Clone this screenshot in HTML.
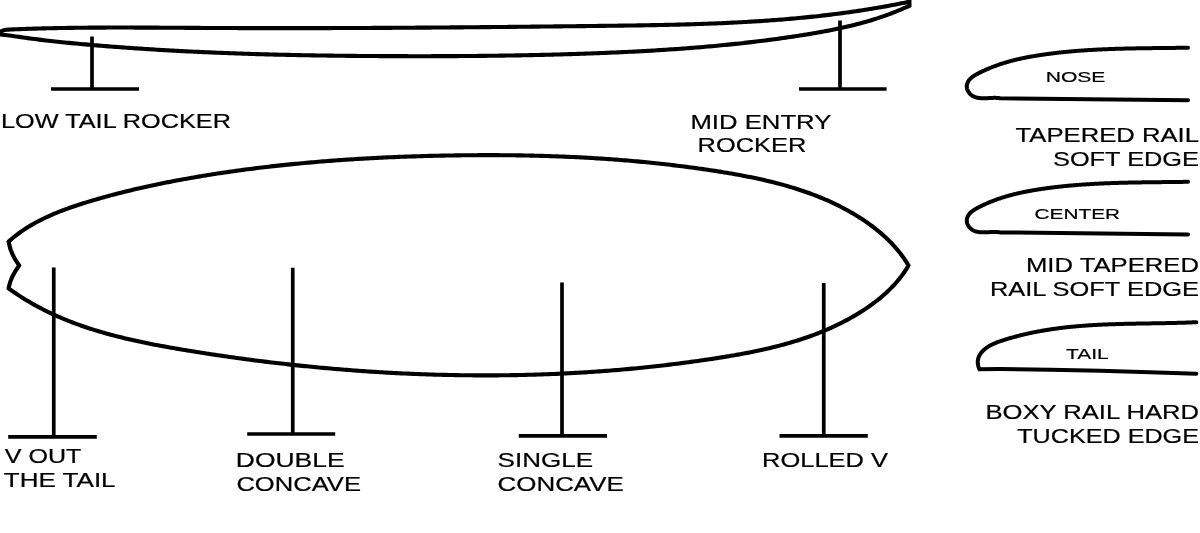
<!DOCTYPE html>
<html><head><meta charset="utf-8"><style>
html,body{margin:0;padding:0;background:#fff;width:1200px;height:533px;overflow:hidden}
svg{display:block;will-change:transform}
text{font-family:"Liberation Sans", sans-serif;fill:#000;stroke:#000;stroke-width:0.2px}
</style></head><body>
<svg width="1200" height="533" viewBox="0 0 1200 533">
<defs><clipPath id="rc"><rect x="-10" y="-10" width="921.5" height="100"/></clipPath></defs>
<rect width="1200" height="533" fill="#fff"/>
<g fill="none" stroke="#000" stroke-width="3.7" stroke-linejoin="round">
<path d="M-2.00,34.20 L-0.22,32.32 L1.75,31.05 L3.85,30.26 L6.05,29.83 L8.31,29.62 L10.61,29.51 L12.91,29.41 L15.21,29.32 L17.50,29.23 L19.80,29.14 L22.10,29.06 L24.40,28.97 L26.70,28.89 L29.00,28.82 L31.30,28.74 L33.60,28.67 L35.90,28.60 L38.21,28.54 L40.51,28.47 L42.81,28.41 L45.11,28.36 L47.41,28.30 L49.72,28.25 L52.02,28.19 L54.32,28.15 L56.63,28.10 L58.93,28.06 L61.23,28.01 L63.54,27.97 L65.84,27.94 L68.14,27.90 L70.45,27.87 L72.75,27.83 L75.06,27.80 L77.36,27.78 L79.67,27.75 L81.97,27.73 L84.28,27.70 L86.59,27.68 L88.89,27.66 L91.20,27.65 L93.50,27.63 L95.81,27.62 L98.12,27.60 L100.42,27.59 L102.73,27.58 L105.04,27.58 L107.34,27.57 L109.65,27.56 L111.96,27.56 L114.27,27.56 L116.57,27.55 L118.88,27.55 L121.19,27.55 L123.50,27.55 L125.80,27.56 L128.11,27.56 L130.42,27.56 L132.73,27.57 L135.03,27.58 L137.34,27.58 L139.65,27.59 L141.96,27.60 L144.27,27.61 L146.58,27.62 L148.88,27.63 L151.19,27.64 L153.50,27.65 L155.81,27.66 L158.12,27.67 L160.42,27.69 L162.73,27.70 L165.04,27.71 L167.35,27.73 L169.66,27.74 L171.97,27.75 L174.27,27.77 L176.58,27.78 L178.89,27.80 L181.20,27.81 L183.51,27.82 L185.81,27.84 L188.12,27.85 L190.43,27.87 L192.74,27.88 L195.05,27.89 L197.35,27.91 L199.66,27.92 L201.97,27.93 L204.27,27.94 L206.58,27.95 L208.89,27.97 L211.20,27.98 L213.50,27.99 L215.81,28.00 L218.12,28.01 L220.42,28.02 L222.73,28.03 L225.04,28.03 L227.34,28.04 L229.65,28.05 L231.96,28.06 L234.26,28.07 L236.57,28.07 L238.87,28.08 L241.18,28.09 L243.49,28.09 L245.79,28.10 L248.10,28.10 L250.40,28.11 L252.71,28.11 L255.02,28.12 L257.32,28.12 L259.63,28.12 L261.93,28.13 L264.24,28.13 L266.54,28.13 L268.85,28.13 L271.15,28.14 L273.46,28.14 L275.76,28.14 L278.07,28.14 L280.37,28.14 L282.68,28.14 L284.98,28.14 L287.29,28.14 L289.59,28.14 L291.90,28.14 L294.20,28.14 L296.51,28.14 L298.81,28.14 L301.12,28.13 L303.42,28.13 L305.73,28.13 L308.03,28.12 L310.33,28.12 L312.64,28.12 L314.94,28.11 L317.25,28.11 L319.55,28.11 L321.86,28.10 L324.16,28.10 L326.46,28.09 L328.77,28.08 L331.07,28.08 L333.38,28.07 L335.68,28.07 L337.98,28.06 L340.29,28.05 L342.59,28.04 L344.90,28.04 L347.20,28.03 L349.50,28.02 L351.81,28.01 L354.11,28.00 L356.42,27.99 L358.72,27.99 L361.02,27.98 L363.33,27.97 L365.63,27.96 L367.93,27.95 L370.24,27.94 L372.54,27.92 L374.85,27.91 L377.15,27.90 L379.45,27.89 L381.76,27.88 L384.06,27.87 L386.36,27.86 L388.67,27.84 L390.97,27.83 L393.27,27.82 L395.58,27.80 L397.88,27.79 L400.19,27.78 L402.49,27.76 L404.79,27.75 L407.10,27.73 L409.40,27.72 L411.70,27.71 L414.01,27.69 L416.31,27.67 L418.62,27.66 L420.92,27.64 L423.22,27.63 L425.53,27.61 L427.83,27.60 L430.13,27.58 L432.44,27.56 L434.74,27.55 L437.05,27.53 L439.35,27.51 L441.65,27.49 L443.96,27.48 L446.26,27.46 L448.56,27.44 L450.87,27.42 L453.17,27.40 L455.48,27.38 L457.78,27.37 L460.08,27.35 L462.39,27.33 L464.69,27.31 L467.00,27.29 L469.30,27.27 L471.61,27.25 L473.91,27.23 L476.21,27.21 L478.52,27.19 L480.82,27.17 L483.13,27.14 L485.43,27.12 L487.74,27.10 L490.04,27.08 L492.35,27.06 L494.65,27.04 L496.95,27.02 L499.26,26.99 L501.56,26.97 L503.87,26.95 L506.17,26.93 L508.48,26.90 L510.78,26.88 L513.09,26.86 L515.39,26.84 L517.70,26.81 L520.00,26.79 L522.31,26.76 L524.61,26.74 L526.92,26.72 L529.23,26.69 L531.53,26.67 L533.84,26.64 L536.14,26.62 L538.45,26.60 L540.75,26.57 L543.06,26.55 L545.37,26.52 L547.67,26.50 L549.98,26.47 L552.28,26.45 L554.59,26.42 L556.90,26.39 L559.20,26.37 L561.51,26.34 L563.81,26.32 L566.12,26.29 L568.43,26.27 L570.73,26.24 L573.04,26.21 L575.35,26.19 L577.66,26.16 L579.96,26.13 L582.27,26.11 L584.58,26.08 L586.88,26.05 L589.19,26.03 L591.50,26.00 L593.81,25.97 L596.11,25.94 L598.42,25.92 L600.73,25.89 L603.04,25.86 L605.35,25.83 L607.65,25.81 L609.96,25.78 L612.27,25.75 L614.58,25.72 L616.89,25.69 L619.19,25.66 L621.50,25.63 L623.81,25.60 L626.12,25.57 L628.43,25.54 L630.74,25.50 L633.05,25.47 L635.35,25.44 L637.66,25.40 L639.97,25.37 L642.28,25.33 L644.59,25.29 L646.90,25.25 L649.21,25.21 L651.51,25.17 L653.82,25.13 L656.13,25.09 L658.44,25.04 L660.75,25.00 L663.05,24.95 L665.36,24.90 L667.67,24.85 L669.98,24.80 L672.29,24.75 L674.59,24.69 L676.90,24.63 L679.21,24.58 L681.52,24.52 L683.82,24.45 L686.13,24.39 L688.44,24.33 L690.74,24.26 L693.05,24.19 L695.36,24.12 L697.66,24.05 L699.97,23.97 L702.27,23.89 L704.58,23.81 L706.88,23.73 L709.19,23.65 L711.49,23.56 L713.80,23.47 L716.10,23.38 L718.41,23.28 L720.71,23.19 L723.02,23.09 L725.32,22.99 L727.62,22.88 L729.93,22.77 L732.23,22.66 L734.53,22.55 L736.83,22.43 L739.13,22.31 L741.44,22.19 L743.74,22.07 L746.04,21.94 L748.34,21.81 L750.64,21.67 L752.94,21.54 L755.24,21.40 L757.54,21.25 L759.84,21.10 L762.14,20.95 L764.43,20.80 L766.73,20.64 L769.03,20.48 L771.33,20.31 L773.62,20.14 L775.92,19.97 L778.22,19.80 L780.51,19.62 L782.81,19.43 L785.10,19.24 L787.40,19.05 L789.69,18.86 L791.98,18.66 L794.28,18.45 L796.57,18.24 L798.86,18.03 L801.15,17.81 L803.44,17.59 L805.74,17.37 L808.03,17.14 L810.32,16.90 L812.60,16.66 L814.89,16.42 L817.18,16.17 L819.47,15.92 L821.76,15.66 L824.04,15.40 L826.33,15.14 L828.61,14.86 L830.90,14.59 L833.18,14.31 L835.47,14.02 L837.75,13.73 L840.03,13.43 L842.32,13.13 L844.60,12.83 L846.88,12.51 L849.16,12.20 L851.44,11.87 L853.72,11.55 L856.00,11.21 L858.27,10.88 L860.55,10.53 L862.83,10.18 L865.10,9.83 L867.38,9.47 L869.65,9.10 L871.93,8.73 L874.20,8.35 L876.47,7.97 L878.75,7.58 L881.02,7.18 L883.29,6.78 L885.56,6.37 L887.83,5.96 L890.10,5.54 L892.36,5.11 L894.63,4.68 L896.90,4.24 L899.16,3.80 L901.43,3.35 L903.69,2.89 L905.96,2.42 L908.22,1.95 L910.48,1.48 L912.74,0.99 L915.00,0.50 M-2.00,34.19 L0.30,34.42 L2.59,34.67 L4.88,34.94 L7.17,35.23 L9.46,35.53 L11.75,35.84 L14.04,36.16 L16.33,36.48 L18.61,36.81 L20.90,37.14 L23.19,37.47 L25.48,37.80 L27.77,38.11 L30.06,38.43 L32.36,38.73 L34.65,39.03 L36.94,39.33 L39.24,39.61 L41.54,39.90 L43.83,40.17 L46.13,40.45 L48.43,40.71 L50.73,40.98 L53.03,41.23 L55.33,41.49 L57.63,41.73 L59.93,41.98 L62.24,42.22 L64.54,42.45 L66.85,42.68 L69.15,42.91 L71.45,43.14 L73.76,43.36 L76.07,43.57 L78.37,43.79 L80.68,44.00 L82.99,44.21 L85.29,44.41 L87.60,44.61 L89.91,44.81 L92.22,45.01 L94.52,45.21 L96.83,45.40 L99.14,45.59 L101.45,45.78 L103.76,45.97 L106.06,46.15 L108.37,46.34 L110.68,46.52 L112.99,46.69 L115.30,46.87 L117.61,47.04 L119.92,47.22 L122.23,47.39 L124.54,47.55 L126.85,47.72 L129.15,47.88 L131.46,48.04 L133.77,48.20 L136.08,48.36 L138.39,48.52 L140.70,48.67 L143.02,48.82 L145.33,48.97 L147.64,49.12 L149.95,49.26 L152.26,49.41 L154.57,49.55 L156.88,49.69 L159.19,49.83 L161.50,49.96 L163.81,50.10 L166.12,50.23 L168.44,50.36 L170.75,50.49 L173.06,50.62 L175.37,50.74 L177.68,50.87 L179.99,50.99 L182.31,51.11 L184.62,51.23 L186.93,51.34 L189.24,51.46 L191.56,51.57 L193.87,51.68 L196.18,51.79 L198.49,51.90 L200.81,52.01 L203.12,52.11 L205.43,52.21 L207.74,52.31 L210.06,52.41 L212.37,52.51 L214.68,52.61 L217.00,52.70 L219.31,52.80 L221.62,52.89 L223.94,52.98 L226.25,53.07 L228.57,53.15 L230.88,53.24 L233.19,53.32 L235.51,53.40 L237.82,53.48 L240.13,53.56 L242.45,53.64 L244.76,53.72 L247.08,53.79 L249.39,53.87 L251.71,53.94 L254.02,54.01 L256.34,54.08 L258.65,54.15 L260.96,54.21 L263.28,54.28 L265.59,54.34 L267.91,54.41 L270.22,54.47 L272.54,54.53 L274.85,54.59 L277.17,54.64 L279.48,54.70 L281.80,54.76 L284.11,54.81 L286.43,54.86 L288.74,54.91 L291.06,54.96 L293.37,55.01 L295.69,55.06 L298.00,55.11 L300.32,55.15 L302.64,55.19 L304.95,55.24 L307.27,55.28 L309.58,55.32 L311.90,55.36 L314.21,55.40 L316.53,55.44 L318.84,55.47 L321.16,55.51 L323.48,55.54 L325.79,55.57 L328.11,55.61 L330.42,55.64 L332.74,55.67 L335.06,55.70 L337.37,55.73 L339.69,55.75 L342.00,55.78 L344.32,55.80 L346.64,55.83 L348.95,55.85 L351.27,55.87 L353.58,55.90 L355.90,55.92 L358.22,55.94 L360.53,55.96 L362.85,55.97 L365.16,55.99 L367.48,56.01 L369.80,56.02 L372.11,56.04 L374.43,56.05 L376.74,56.07 L379.06,56.08 L381.38,56.09 L383.69,56.10 L386.01,56.11 L388.33,56.12 L390.64,56.13 L392.96,56.14 L395.27,56.15 L397.59,56.15 L399.91,56.16 L402.22,56.17 L404.54,56.17 L406.86,56.17 L409.17,56.18 L411.49,56.18 L413.80,56.18 L416.12,56.19 L418.44,56.19 L420.75,56.19 L423.07,56.19 L425.38,56.18 L427.70,56.18 L430.02,56.18 L432.33,56.17 L434.65,56.17 L436.96,56.17 L439.28,56.16 L441.60,56.15 L443.91,56.14 L446.23,56.14 L448.54,56.13 L450.86,56.12 L453.18,56.10 L455.49,56.09 L457.81,56.08 L460.12,56.06 L462.44,56.05 L464.75,56.03 L467.07,56.02 L469.39,56.00 L471.70,55.98 L474.02,55.96 L476.33,55.94 L478.65,55.92 L480.96,55.90 L483.28,55.87 L485.60,55.85 L487.91,55.82 L490.23,55.79 L492.54,55.77 L494.86,55.74 L497.17,55.71 L499.49,55.67 L501.80,55.64 L504.12,55.61 L506.43,55.57 L508.75,55.54 L511.06,55.50 L513.38,55.46 L515.69,55.42 L518.01,55.38 L520.32,55.34 L522.64,55.30 L524.95,55.25 L527.27,55.21 L529.58,55.16 L531.90,55.11 L534.21,55.07 L536.53,55.01 L538.84,54.96 L541.16,54.91 L543.47,54.86 L545.79,54.80 L548.10,54.74 L550.42,54.68 L552.73,54.63 L555.05,54.56 L557.36,54.50 L559.67,54.44 L561.99,54.37 L564.30,54.31 L566.62,54.24 L568.93,54.17 L571.24,54.10 L573.56,54.03 L575.87,53.95 L578.19,53.88 L580.50,53.80 L582.81,53.72 L585.13,53.64 L587.44,53.56 L589.76,53.48 L592.07,53.39 L594.38,53.31 L596.70,53.22 L599.01,53.13 L601.32,53.04 L603.64,52.95 L605.95,52.85 L608.26,52.76 L610.57,52.66 L612.89,52.56 L615.20,52.46 L617.51,52.36 L619.83,52.25 L622.14,52.15 L624.45,52.04 L626.76,51.93 L629.08,51.82 L631.39,51.70 L633.70,51.59 L636.01,51.47 L638.32,51.35 L640.64,51.23 L642.95,51.10 L645.26,50.97 L647.57,50.84 L649.88,50.71 L652.19,50.58 L654.50,50.44 L656.81,50.30 L659.12,50.16 L661.43,50.02 L663.74,49.87 L666.05,49.72 L668.36,49.57 L670.67,49.42 L672.98,49.26 L675.29,49.10 L677.60,48.94 L679.91,48.78 L682.22,48.61 L684.53,48.44 L686.84,48.27 L689.14,48.09 L691.45,47.91 L693.76,47.73 L696.07,47.54 L698.37,47.36 L700.68,47.17 L702.99,46.97 L705.29,46.78 L707.60,46.58 L709.91,46.37 L712.21,46.17 L714.52,45.96 L716.82,45.74 L719.13,45.53 L721.43,45.31 L723.74,45.08 L726.04,44.86 L728.34,44.63 L730.65,44.39 L732.95,44.15 L735.25,43.91 L737.56,43.67 L739.86,43.42 L742.16,43.17 L744.46,42.91 L746.76,42.65 L749.06,42.39 L751.37,42.13 L753.67,41.85 L755.97,41.58 L758.27,41.30 L760.57,41.02 L762.86,40.73 L765.16,40.44 L767.46,40.15 L769.76,39.85 L772.06,39.55 L774.35,39.24 L776.65,38.93 L778.95,38.61 L781.24,38.29 L783.54,37.97 L785.84,37.64 L788.13,37.31 L790.42,36.97 L792.72,36.63 L795.01,36.29 L797.31,35.94 L799.60,35.58 L801.89,35.22 L804.18,34.86 L806.48,34.49 L808.77,34.11 L811.06,33.73 L813.34,33.35 L815.63,32.95 L817.92,32.55 L820.20,32.14 L822.48,31.73 L824.76,31.30 L827.04,30.87 L829.32,30.43 L831.60,29.98 L833.87,29.53 L836.14,29.06 L838.41,28.58 L840.67,28.09 L842.93,27.60 L845.19,27.09 L847.44,26.57 L849.70,26.03 L851.94,25.49 L854.19,24.93 L856.43,24.36 L858.67,23.78 L860.90,23.19 L863.13,22.58 L865.35,21.95 L867.57,21.32 L869.79,20.67 L872.00,20.00 L874.21,19.32 L876.41,18.62 L878.60,17.91 L880.79,17.18 L882.98,16.43 L885.16,15.66 L887.33,14.88 L889.50,14.09 L891.66,13.27 L893.82,12.43 L895.96,11.58 L898.11,10.71 L900.24,9.81 L902.37,8.90 L904.50,7.97 L906.61,7.02 L908.72,6.05 L910.82,5.05 L912.91,4.04 L915.00,3.00" clip-path="url(#rc)" stroke-width="4.1"/>
<path d="M8.59,241.59 L10.36,240.03 L12.15,238.50 L13.97,237.01 L15.81,235.56 L17.67,234.14 L19.55,232.75 L21.46,231.40 L23.38,230.08 L25.33,228.80 L27.29,227.54 L29.28,226.32 L31.28,225.12 L33.30,223.95 L35.34,222.81 L37.40,221.70 L39.47,220.62 L41.55,219.56 L43.65,218.52 L45.77,217.51 L47.89,216.52 L50.04,215.56 L52.19,214.62 L54.36,213.70 L56.53,212.80 L58.72,211.91 L60.92,211.05 L63.12,210.21 L65.34,209.38 L67.56,208.57 L69.80,207.77 L72.03,206.99 L74.28,206.23 L76.53,205.48 L78.79,204.74 L81.05,204.01 L83.31,203.29 L85.58,202.59 L87.85,201.89 L90.13,201.20 L92.40,200.52 L94.68,199.85 L96.96,199.19 L99.24,198.54 L101.53,197.89 L103.81,197.25 L106.10,196.62 L108.38,195.99 L110.67,195.38 L112.96,194.77 L115.25,194.17 L117.55,193.57 L119.84,192.98 L122.14,192.40 L124.44,191.83 L126.74,191.26 L129.04,190.70 L131.34,190.15 L133.65,189.60 L135.95,189.06 L138.26,188.53 L140.56,188.00 L142.87,187.48 L145.18,186.96 L147.49,186.45 L149.81,185.95 L152.12,185.45 L154.43,184.96 L156.75,184.48 L159.07,184.00 L161.39,183.52 L163.70,183.05 L166.03,182.59 L168.35,182.13 L170.67,181.68 L172.99,181.23 L175.32,180.79 L177.64,180.35 L179.97,179.92 L182.29,179.49 L184.62,179.07 L186.95,178.65 L189.28,178.23 L191.61,177.82 L193.94,177.42 L196.27,177.02 L198.60,176.62 L200.94,176.23 L203.27,175.84 L205.60,175.46 L207.94,175.08 L210.27,174.70 L212.61,174.33 L214.95,173.97 L217.29,173.60 L219.62,173.25 L221.96,172.89 L224.30,172.54 L226.65,172.20 L228.99,171.86 L231.33,171.52 L233.67,171.19 L236.01,170.86 L238.36,170.53 L240.70,170.21 L243.05,169.90 L245.39,169.58 L247.74,169.28 L250.09,168.97 L252.43,168.67 L254.78,168.37 L257.13,168.08 L259.48,167.79 L261.83,167.51 L264.18,167.23 L266.53,166.95 L268.88,166.67 L271.23,166.40 L273.58,166.14 L275.94,165.88 L278.29,165.62 L280.64,165.36 L283.00,165.11 L285.35,164.87 L287.70,164.62 L290.06,164.38 L292.42,164.14 L294.77,163.91 L297.13,163.68 L299.48,163.46 L301.84,163.23 L304.20,163.02 L306.56,162.80 L308.91,162.59 L311.27,162.38 L313.63,162.18 L315.99,161.97 L318.35,161.78 L320.71,161.58 L323.07,161.39 L325.43,161.20 L327.79,161.02 L330.15,160.84 L332.51,160.66 L334.88,160.48 L337.24,160.31 L339.60,160.14 L341.96,159.98 L344.32,159.82 L346.69,159.66 L349.05,159.50 L351.41,159.35 L353.78,159.20 L356.14,159.05 L358.50,158.91 L360.87,158.77 L363.23,158.63 L365.59,158.50 L367.96,158.36 L370.32,158.24 L372.69,158.11 L375.05,157.99 L377.42,157.87 L379.78,157.75 L382.15,157.64 L384.51,157.52 L386.88,157.42 L389.24,157.31 L391.61,157.21 L393.97,157.11 L396.34,157.01 L398.70,156.91 L401.07,156.82 L403.43,156.73 L405.80,156.65 L408.16,156.56 L410.53,156.48 L412.89,156.40 L415.26,156.33 L417.62,156.25 L419.99,156.18 L422.35,156.11 L424.72,156.04 L427.08,155.98 L429.45,155.92 L431.81,155.86 L434.18,155.80 L436.54,155.75 L438.91,155.70 L441.27,155.65 L443.63,155.60 L446.00,155.56 L448.36,155.51 L450.73,155.47 L453.09,155.44 L455.45,155.40 L457.81,155.37 L460.18,155.33 L462.54,155.31 L464.90,155.28 L467.27,155.26 L469.63,155.23 L471.99,155.21 L474.35,155.20 L476.71,155.18 L479.07,155.17 L481.44,155.16 L483.80,155.16 L486.16,155.15 L488.52,155.15 L490.88,155.15 L493.24,155.16 L495.60,155.16 L497.96,155.17 L500.32,155.18 L502.68,155.20 L505.04,155.22 L507.40,155.24 L509.76,155.26 L512.12,155.29 L514.48,155.32 L516.84,155.35 L519.20,155.38 L521.56,155.42 L523.92,155.46 L526.28,155.51 L528.64,155.55 L531.00,155.60 L533.36,155.66 L535.72,155.71 L538.08,155.77 L540.43,155.83 L542.79,155.90 L545.15,155.97 L547.51,156.04 L549.87,156.11 L552.23,156.19 L554.58,156.27 L556.94,156.36 L559.30,156.45 L561.66,156.54 L564.02,156.64 L566.38,156.73 L568.73,156.84 L571.09,156.94 L573.45,157.05 L575.81,157.16 L578.16,157.28 L580.52,157.40 L582.88,157.52 L585.24,157.65 L587.59,157.78 L589.95,157.91 L592.31,158.05 L594.67,158.19 L597.02,158.34 L599.38,158.49 L601.74,158.64 L604.10,158.80 L606.45,158.96 L608.81,159.12 L611.17,159.29 L613.53,159.46 L615.88,159.64 L618.24,159.82 L620.60,160.00 L622.96,160.19 L625.31,160.38 L627.67,160.58 L630.03,160.78 L632.38,160.98 L634.74,161.19 L637.10,161.40 L639.46,161.62 L641.81,161.84 L644.17,162.06 L646.53,162.29 L648.89,162.53 L651.24,162.76 L653.60,163.01 L655.96,163.25 L658.32,163.50 L660.67,163.76 L663.03,164.02 L665.39,164.28 L667.75,164.55 L670.11,164.82 L672.46,165.10 L674.82,165.38 L677.18,165.67 L679.54,165.96 L681.90,166.25 L684.25,166.55 L686.61,166.86 L688.97,167.17 L691.33,167.48 L693.69,167.80 L696.05,168.13 L698.40,168.46 L700.76,168.79 L703.12,169.13 L705.48,169.47 L707.84,169.82 L710.20,170.17 L712.56,170.53 L714.92,170.89 L717.28,171.26 L719.63,171.63 L721.99,172.01 L724.35,172.40 L726.71,172.79 L729.06,173.19 L731.42,173.59 L733.77,174.00 L736.12,174.42 L738.47,174.85 L740.82,175.28 L743.17,175.72 L745.51,176.18 L747.86,176.64 L750.19,177.10 L752.53,177.58 L754.86,178.07 L757.19,178.57 L759.52,179.07 L761.85,179.59 L764.16,180.12 L766.48,180.66 L768.79,181.21 L771.10,181.77 L773.40,182.34 L775.70,182.92 L778.00,183.52 L780.29,184.13 L782.57,184.75 L784.85,185.38 L787.12,186.03 L789.39,186.69 L791.65,187.37 L793.91,188.05 L796.16,188.76 L798.40,189.47 L800.64,190.21 L802.87,190.95 L805.09,191.71 L807.31,192.49 L809.52,193.29 L811.72,194.10 L813.92,194.92 L816.10,195.76 L818.28,196.62 L820.45,197.50 L822.61,198.39 L824.77,199.30 L826.91,200.23 L829.05,201.18 L831.18,202.15 L833.29,203.13 L835.40,204.14 L837.50,205.16 L839.59,206.20 L841.67,207.26 L843.74,208.34 L845.80,209.45 L847.85,210.57 L849.89,211.71 L851.91,212.88 L853.93,214.07 L855.93,215.27 L857.93,216.50 L859.91,217.76 L861.88,219.03 L863.84,220.33 L865.79,221.65 L867.72,222.99 L869.63,224.36 L871.53,225.75 L873.42,227.17 L875.28,228.61 L877.13,230.08 L878.96,231.57 L880.76,233.09 L882.55,234.64 L884.31,236.22 L886.04,237.82 L887.75,239.45 L889.44,241.11 L891.10,242.80 L892.73,244.52 L894.33,246.27 L895.90,248.05 L897.44,249.86 L898.95,251.70 L900.42,253.57 L901.86,255.48 L903.26,257.41 L904.63,259.38 L905.96,261.39 L907.26,263.43 L908.51,265.50 L908.51,265.50 L907.29,267.55 L906.02,269.56 L904.71,271.54 L903.36,273.48 L901.97,275.40 L900.53,277.28 L899.06,279.13 L897.55,280.96 L896.01,282.75 L894.42,284.51 L892.81,286.24 L891.16,287.94 L889.49,289.62 L887.78,291.26 L886.04,292.88 L884.28,294.47 L882.49,296.03 L880.67,297.56 L878.83,299.07 L876.97,300.55 L875.09,302.00 L873.19,303.43 L871.27,304.84 L869.33,306.22 L867.38,307.57 L865.41,308.90 L863.43,310.20 L861.43,311.49 L859.43,312.74 L857.41,313.98 L855.39,315.19 L853.35,316.38 L851.31,317.55 L849.25,318.70 L847.19,319.83 L845.12,320.93 L843.04,322.01 L840.95,323.08 L838.85,324.12 L836.74,325.14 L834.63,326.14 L832.50,327.13 L830.37,328.09 L828.23,329.04 L826.09,329.96 L823.93,330.87 L821.77,331.76 L819.60,332.63 L817.42,333.49 L815.24,334.33 L813.05,335.15 L810.85,335.95 L808.65,336.74 L806.44,337.51 L804.22,338.27 L802.00,339.01 L799.77,339.73 L797.54,340.44 L795.30,341.14 L793.05,341.82 L790.80,342.49 L788.55,343.14 L786.29,343.78 L784.02,344.41 L781.75,345.02 L779.47,345.62 L777.19,346.21 L774.91,346.79 L772.62,347.35 L770.33,347.91 L768.03,348.45 L765.73,348.98 L763.43,349.50 L761.12,350.01 L758.81,350.51 L756.49,351.01 L754.18,351.49 L751.86,351.96 L749.53,352.42 L747.21,352.88 L744.88,353.32 L742.55,353.76 L740.21,354.19 L737.88,354.61 L735.54,355.03 L733.20,355.44 L730.86,355.84 L728.52,356.24 L726.18,356.63 L723.84,357.01 L721.49,357.39 L719.14,357.76 L716.80,358.13 L714.45,358.49 L712.10,358.85 L709.75,359.21 L707.41,359.56 L705.06,359.90 L702.71,360.25 L700.36,360.58 L698.01,360.92 L695.66,361.25 L693.31,361.58 L690.96,361.90 L688.61,362.22 L686.26,362.53 L683.90,362.84 L681.55,363.15 L679.20,363.45 L676.85,363.75 L674.50,364.04 L672.14,364.33 L669.79,364.62 L667.44,364.90 L665.08,365.18 L662.73,365.45 L660.37,365.72 L658.02,365.99 L655.66,366.25 L653.31,366.51 L650.95,366.76 L648.60,367.01 L646.24,367.26 L643.89,367.50 L641.53,367.74 L639.18,367.98 L636.82,368.21 L634.46,368.44 L632.11,368.66 L629.75,368.88 L627.39,369.10 L625.04,369.31 L622.68,369.52 L620.32,369.72 L617.96,369.92 L615.61,370.12 L613.25,370.31 L610.89,370.50 L608.53,370.69 L606.17,370.87 L603.81,371.05 L601.46,371.22 L599.10,371.39 L596.74,371.56 L594.38,371.72 L592.02,371.88 L589.66,372.04 L587.30,372.19 L584.94,372.34 L582.58,372.48 L580.22,372.62 L577.86,372.76 L575.50,372.90 L573.14,373.03 L570.78,373.15 L568.42,373.28 L566.06,373.39 L563.70,373.51 L561.34,373.62 L558.98,373.73 L556.62,373.84 L554.26,373.94 L551.90,374.04 L549.54,374.13 L547.18,374.22 L544.82,374.31 L542.46,374.39 L540.10,374.47 L537.74,374.55 L535.38,374.62 L533.02,374.69 L530.66,374.76 L528.30,374.82 L525.94,374.88 L523.58,374.94 L521.22,374.99 L518.86,375.04 L516.50,375.09 L514.14,375.13 L511.78,375.17 L509.42,375.21 L507.06,375.24 L504.70,375.27 L502.34,375.29 L499.98,375.31 L497.62,375.33 L495.26,375.35 L492.90,375.36 L490.54,375.37 L488.18,375.38 L485.82,375.38 L483.47,375.38 L481.11,375.37 L478.75,375.37 L476.39,375.35 L474.03,375.34 L471.67,375.32 L469.31,375.30 L466.96,375.28 L464.60,375.25 L462.24,375.22 L459.88,375.19 L457.52,375.15 L455.17,375.11 L452.81,375.07 L450.45,375.02 L448.10,374.97 L445.74,374.92 L443.38,374.87 L441.03,374.81 L438.67,374.75 L436.31,374.68 L433.96,374.61 L431.60,374.54 L429.25,374.47 L426.89,374.39 L424.54,374.31 L422.18,374.22 L419.83,374.14 L417.47,374.05 L415.12,373.95 L412.76,373.86 L410.41,373.76 L408.05,373.65 L405.70,373.55 L403.35,373.44 L400.99,373.33 L398.64,373.21 L396.29,373.09 L393.93,372.97 L391.58,372.85 L389.23,372.72 L386.87,372.59 L384.52,372.46 L382.17,372.32 L379.82,372.18 L377.46,372.04 L375.11,371.89 L372.76,371.74 L370.41,371.59 L368.06,371.44 L365.70,371.28 L363.35,371.12 L361.00,370.95 L358.65,370.78 L356.30,370.61 L353.95,370.44 L351.60,370.26 L349.25,370.08 L346.90,369.90 L344.54,369.71 L342.19,369.53 L339.84,369.33 L337.49,369.14 L335.14,368.94 L332.79,368.74 L330.44,368.53 L328.09,368.33 L325.74,368.12 L323.39,367.90 L321.05,367.69 L318.70,367.47 L316.35,367.25 L314.00,367.02 L311.65,366.79 L309.30,366.56 L306.95,366.33 L304.60,366.09 L302.25,365.85 L299.90,365.61 L297.56,365.36 L295.21,365.11 L292.86,364.86 L290.51,364.60 L288.16,364.34 L285.81,364.08 L283.47,363.82 L281.12,363.55 L278.77,363.28 L276.42,363.01 L274.08,362.73 L271.73,362.45 L269.38,362.17 L267.03,361.88 L264.69,361.60 L262.34,361.30 L259.99,361.01 L257.64,360.71 L255.30,360.41 L252.95,360.11 L250.60,359.80 L248.26,359.50 L245.91,359.18 L243.56,358.87 L241.21,358.55 L238.87,358.23 L236.52,357.91 L234.17,357.58 L231.83,357.25 L229.48,356.92 L227.14,356.58 L224.79,356.25 L222.44,355.90 L220.10,355.56 L217.75,355.21 L215.40,354.86 L213.06,354.51 L210.71,354.16 L208.37,353.80 L206.02,353.43 L203.67,353.07 L201.33,352.70 L198.98,352.33 L196.63,351.96 L194.29,351.58 L191.94,351.20 L189.60,350.82 L187.25,350.44 L184.91,350.05 L182.56,349.66 L180.21,349.27 L177.87,348.87 L175.53,348.47 L173.18,348.06 L170.84,347.65 L168.50,347.24 L166.16,346.82 L163.82,346.39 L161.48,345.96 L159.14,345.53 L156.80,345.09 L154.47,344.64 L152.14,344.19 L149.81,343.73 L147.48,343.26 L145.15,342.78 L142.83,342.30 L140.51,341.82 L138.19,341.32 L135.87,340.82 L133.56,340.30 L131.25,339.78 L128.94,339.25 L126.64,338.71 L124.34,338.17 L122.04,337.61 L119.75,337.04 L117.46,336.47 L115.17,335.88 L112.89,335.28 L110.61,334.68 L108.34,334.06 L106.07,333.43 L103.81,332.79 L101.55,332.14 L99.29,331.47 L97.04,330.80 L94.80,330.11 L92.55,329.41 L90.32,328.69 L88.09,327.97 L85.87,327.23 L83.65,326.47 L81.43,325.70 L79.23,324.92 L77.03,324.13 L74.83,323.32 L72.64,322.49 L70.46,321.65 L68.28,320.80 L66.11,319.93 L63.95,319.04 L61.80,318.14 L59.65,317.22 L57.51,316.29 L55.37,315.34 L53.25,314.37 L51.13,313.38 L49.01,312.38 L46.91,311.36 L44.81,310.32 L42.73,309.27 L40.65,308.19 L38.58,307.10 L36.51,305.99 L34.46,304.86 L32.41,303.71 L30.38,302.54 L28.35,301.35 L26.33,300.14 L24.32,298.91 L22.32,297.66 L20.33,296.39 L18.35,295.10 L16.37,293.79 L14.41,292.45 L12.46,291.10 L10.52,289.72 L8.59,288.32 Q10.5,277 19.2,265.5 Q10.5,254 8.6,241.6 Z" stroke-width="4.1"/>
<path d="M1188.00,47.70 L1187.33,47.71 L1186.65,47.72 L1185.98,47.73 L1185.31,47.74 L1184.64,47.75 L1183.96,47.76 L1183.29,47.77 L1182.62,47.78 L1181.94,47.79 L1181.27,47.80 L1180.59,47.81 L1179.92,47.82 L1179.24,47.82 L1178.57,47.83 L1177.90,47.84 L1177.22,47.85 L1176.54,47.86 L1175.87,47.87 L1175.19,47.88 L1174.52,47.88 L1173.84,47.89 L1173.17,47.90 L1172.49,47.91 L1171.81,47.91 L1171.14,47.92 L1170.46,47.93 L1169.79,47.94 L1169.11,47.94 L1168.43,47.95 L1167.75,47.96 L1167.08,47.97 L1166.40,47.97 L1165.72,47.98 L1165.05,47.99 L1164.37,48.00 L1163.69,48.00 L1163.01,48.01 L1162.33,48.02 L1161.66,48.03 L1160.98,48.03 L1160.30,48.04 L1159.62,48.05 L1158.94,48.05 L1158.26,48.06 L1157.58,48.07 L1156.91,48.08 L1156.23,48.09 L1155.55,48.09 L1154.87,48.10 L1154.19,48.11 L1153.51,48.12 L1152.83,48.12 L1152.15,48.13 L1151.47,48.14 L1150.79,48.15 L1150.11,48.16 L1149.43,48.17 L1148.75,48.18 L1148.07,48.18 L1147.39,48.19 L1146.71,48.20 L1146.03,48.21 L1145.35,48.22 L1144.67,48.23 L1143.99,48.24 L1143.31,48.25 L1142.63,48.26 L1141.95,48.27 L1141.27,48.28 L1140.59,48.29 L1139.91,48.30 L1139.22,48.31 L1138.54,48.32 L1137.86,48.34 L1137.18,48.35 L1136.50,48.36 L1135.82,48.37 L1135.14,48.38 L1134.46,48.40 L1133.78,48.41 L1133.10,48.42 L1132.41,48.43 L1131.73,48.45 L1131.05,48.46 L1130.37,48.48 L1129.69,48.49 L1129.01,48.51 L1128.33,48.52 L1127.64,48.54 L1126.96,48.55 L1126.28,48.57 L1125.60,48.58 L1124.92,48.60 L1124.24,48.62 L1123.56,48.63 L1122.88,48.65 L1122.19,48.67 L1121.51,48.69 L1120.83,48.71 L1120.15,48.72 L1119.47,48.74 L1118.79,48.76 L1118.11,48.78 L1117.42,48.80 L1116.74,48.82 L1116.06,48.85 L1115.38,48.87 L1114.70,48.89 L1114.02,48.91 L1113.34,48.93 L1112.65,48.96 L1111.97,48.98 L1111.29,49.01 L1110.61,49.03 L1109.93,49.05 L1109.25,49.08 L1108.57,49.11 L1107.89,49.13 L1107.21,49.16 L1106.53,49.19 L1105.85,49.21 L1105.16,49.24 L1104.48,49.27 L1103.80,49.30 L1103.12,49.33 L1102.44,49.36 L1101.76,49.39 L1101.08,49.42 L1100.40,49.45 L1099.72,49.49 L1099.04,49.52 L1098.36,49.55 L1097.68,49.59 L1097.00,49.62 L1096.32,49.65 L1095.64,49.69 L1094.96,49.73 L1094.28,49.76 L1093.60,49.80 L1092.92,49.84 L1092.24,49.88 L1091.56,49.92 L1090.88,49.96 L1090.20,50.00 L1089.53,50.04 L1088.85,50.08 L1088.17,50.12 L1087.49,50.16 L1086.81,50.21 L1086.13,50.25 L1085.45,50.29 L1084.78,50.34 L1084.10,50.39 L1083.42,50.43 L1082.74,50.48 L1082.06,50.53 L1081.39,50.58 L1080.71,50.63 L1080.03,50.68 L1079.35,50.73 L1078.68,50.78 L1078.00,50.83 L1077.32,50.88 L1076.65,50.94 L1075.97,50.99 L1075.29,51.05 L1074.62,51.10 L1073.94,51.16 L1073.26,51.21 L1072.59,51.27 L1071.91,51.33 L1071.24,51.39 L1070.56,51.45 L1069.89,51.51 L1069.21,51.57 L1068.54,51.64 L1067.86,51.70 L1067.19,51.76 L1066.51,51.83 L1065.84,51.89 L1065.16,51.96 L1064.49,52.03 L1063.82,52.10 L1063.14,52.17 L1062.47,52.24 L1061.80,52.31 L1061.12,52.38 L1060.45,52.45 L1059.78,52.52 L1059.10,52.60 L1058.43,52.67 L1057.76,52.75 L1057.09,52.83 L1056.42,52.90 L1055.74,52.98 L1055.07,53.06 L1054.40,53.14 L1053.73,53.22 L1053.06,53.31 L1052.39,53.39 L1051.72,53.47 L1051.05,53.56 L1050.38,53.64 L1049.71,53.73 L1049.04,53.82 L1048.37,53.91 L1047.70,54.00 L1047.03,54.09 L1046.36,54.18 L1045.70,54.27 L1045.03,54.37 L1044.36,54.46 L1043.69,54.56 L1043.02,54.65 L1042.36,54.75 L1041.69,54.85 L1041.02,54.95 L1040.36,55.05 L1039.69,55.15 L1039.02,55.25 L1038.36,55.36 L1037.69,55.46 L1037.03,55.57 L1036.36,55.68 L1035.70,55.78 L1035.03,55.89 L1034.37,56.01 L1033.71,56.12 L1033.04,56.23 L1032.38,56.35 L1031.72,56.46 L1031.05,56.58 L1030.39,56.70 L1029.73,56.82 L1029.07,56.94 L1028.40,57.06 L1027.74,57.19 L1027.08,57.32 L1026.42,57.44 L1025.76,57.57 L1025.10,57.70 L1024.44,57.84 L1023.78,57.97 L1023.12,58.11 L1022.46,58.25 L1021.80,58.39 L1021.14,58.53 L1020.49,58.67 L1019.83,58.82 L1019.17,58.96 L1018.51,59.11 L1017.85,59.26 L1017.20,59.42 L1016.54,59.57 L1015.89,59.73 L1015.23,59.89 L1014.57,60.05 L1013.92,60.21 L1013.26,60.38 L1012.61,60.55 L1011.95,60.72 L1011.30,60.89 L1010.65,61.07 L1009.99,61.24 L1009.34,61.42 L1008.69,61.60 L1008.04,61.79 L1007.38,61.97 L1006.73,62.16 L1006.08,62.35 L1005.43,62.55 L1004.78,62.74 L1004.13,62.94 L1003.48,63.14 L1002.83,63.35 L1002.18,63.55 L1001.53,63.76 L1000.88,63.97 L1000.23,64.19 L999.59,64.41 L998.94,64.63 L998.29,64.85 L997.64,65.08 L997.00,65.30 L996.35,65.54 L995.71,65.77 L995.06,66.01 L994.42,66.25 L993.77,66.49 L993.13,66.74 L992.48,66.99 L991.84,67.24 L991.20,67.50 L990.55,67.75 L989.91,68.02 L989.27,68.28 L988.63,68.55 L987.99,68.82 L987.34,69.10 L986.70,69.38 L986.06,69.66 L985.42,69.94 L984.78,70.23 L984.15,70.52 L983.51,70.82 L982.87,71.12 L982.23,71.42 L981.59,71.72 L980.96,72.03 L980.32,72.35 L979.68,72.66 L979.05,72.98 L978.41,73.31 L977.78,73.64 L977.16,73.97 L976.54,74.31 L975.92,74.66 L975.32,75.02 L974.72,75.38 L974.13,75.75 L973.56,76.13 L973.00,76.52 L972.46,76.92 L971.93,77.33 L971.42,77.75 L970.93,78.19 L970.46,78.63 L970.01,79.09 L969.58,79.57 L969.18,80.06 L968.80,80.56 L968.45,81.08 L968.13,81.61 L967.84,82.17 L967.58,82.74 L967.35,83.32 L967.15,83.93 L967.00,84.55 L966.88,85.17 L966.80,85.81 L966.77,86.45 L966.79,87.09 L966.85,87.73 L966.97,88.37 L967.13,89.00 L967.33,89.62 L967.58,90.23 L967.87,90.83 L968.19,91.42 L968.55,91.99 L968.94,92.54 L969.36,93.07 L969.80,93.59 L970.28,94.07 L970.77,94.54 L971.29,94.97 L971.83,95.38 L972.38,95.75 L972.95,96.09 L973.54,96.40 L974.14,96.68 L974.75,96.94 L975.37,97.17 L976.00,97.37 L976.65,97.54 L977.30,97.70 L977.97,97.83 L978.64,97.95 L979.33,98.04 L980.02,98.11 L980.71,98.17 L981.41,98.22 L982.12,98.25 L982.83,98.27 L983.55,98.27 L984.27,98.27 L984.99,98.25 L985.71,98.23 L986.43,98.21 L987.16,98.17 L987.88,98.14 L988.60,98.10 L989.32,98.06 L990.04,98.02 L990.75,97.98 L991.46,97.95 L992.17,97.92 L992.87,97.89 L993.56,97.87 L994.25,97.86 L994.93,97.85 L995.60,97.86 L996.26,97.88 L996.91,97.91 L997.55,97.95 L998.18,98.01 L998.80,98.09 L999.41,98.19 L1000.00,98.30 L1188,100.30" stroke-linecap="round" stroke-width="4"/>
<path d="M1188.00,181.80 L1187.33,181.81 L1186.65,181.82 L1185.98,181.83 L1185.31,181.84 L1184.64,181.85 L1183.96,181.86 L1183.29,181.87 L1182.62,181.88 L1181.94,181.89 L1181.27,181.90 L1180.59,181.91 L1179.92,181.92 L1179.24,181.92 L1178.57,181.93 L1177.90,181.94 L1177.22,181.95 L1176.54,181.96 L1175.87,181.97 L1175.19,181.98 L1174.52,181.98 L1173.84,181.99 L1173.17,182.00 L1172.49,182.01 L1171.81,182.01 L1171.14,182.02 L1170.46,182.03 L1169.79,182.04 L1169.11,182.04 L1168.43,182.05 L1167.75,182.06 L1167.08,182.07 L1166.40,182.07 L1165.72,182.08 L1165.05,182.09 L1164.37,182.10 L1163.69,182.10 L1163.01,182.11 L1162.33,182.12 L1161.66,182.13 L1160.98,182.13 L1160.30,182.14 L1159.62,182.15 L1158.94,182.15 L1158.26,182.16 L1157.58,182.17 L1156.91,182.18 L1156.23,182.19 L1155.55,182.19 L1154.87,182.20 L1154.19,182.21 L1153.51,182.22 L1152.83,182.22 L1152.15,182.23 L1151.47,182.24 L1150.79,182.25 L1150.11,182.26 L1149.43,182.27 L1148.75,182.28 L1148.07,182.28 L1147.39,182.29 L1146.71,182.30 L1146.03,182.31 L1145.35,182.32 L1144.67,182.33 L1143.99,182.34 L1143.31,182.35 L1142.63,182.36 L1141.95,182.37 L1141.27,182.38 L1140.59,182.39 L1139.91,182.40 L1139.22,182.41 L1138.54,182.42 L1137.86,182.44 L1137.18,182.45 L1136.50,182.46 L1135.82,182.47 L1135.14,182.48 L1134.46,182.50 L1133.78,182.51 L1133.10,182.52 L1132.41,182.53 L1131.73,182.55 L1131.05,182.56 L1130.37,182.58 L1129.69,182.59 L1129.01,182.61 L1128.33,182.62 L1127.64,182.64 L1126.96,182.65 L1126.28,182.67 L1125.60,182.68 L1124.92,182.70 L1124.24,182.72 L1123.56,182.73 L1122.88,182.75 L1122.19,182.77 L1121.51,182.79 L1120.83,182.81 L1120.15,182.82 L1119.47,182.84 L1118.79,182.86 L1118.11,182.88 L1117.42,182.90 L1116.74,182.92 L1116.06,182.95 L1115.38,182.97 L1114.70,182.99 L1114.02,183.01 L1113.34,183.03 L1112.65,183.06 L1111.97,183.08 L1111.29,183.11 L1110.61,183.13 L1109.93,183.15 L1109.25,183.18 L1108.57,183.21 L1107.89,183.23 L1107.21,183.26 L1106.53,183.29 L1105.85,183.31 L1105.16,183.34 L1104.48,183.37 L1103.80,183.40 L1103.12,183.43 L1102.44,183.46 L1101.76,183.49 L1101.08,183.52 L1100.40,183.55 L1099.72,183.59 L1099.04,183.62 L1098.36,183.65 L1097.68,183.69 L1097.00,183.72 L1096.32,183.75 L1095.64,183.79 L1094.96,183.83 L1094.28,183.86 L1093.60,183.90 L1092.92,183.94 L1092.24,183.98 L1091.56,184.02 L1090.88,184.06 L1090.20,184.10 L1089.53,184.14 L1088.85,184.18 L1088.17,184.22 L1087.49,184.26 L1086.81,184.31 L1086.13,184.35 L1085.45,184.39 L1084.78,184.44 L1084.10,184.49 L1083.42,184.53 L1082.74,184.58 L1082.06,184.63 L1081.39,184.68 L1080.71,184.73 L1080.03,184.78 L1079.35,184.83 L1078.68,184.88 L1078.00,184.93 L1077.32,184.98 L1076.65,185.04 L1075.97,185.09 L1075.29,185.15 L1074.62,185.20 L1073.94,185.26 L1073.26,185.31 L1072.59,185.37 L1071.91,185.43 L1071.24,185.49 L1070.56,185.55 L1069.89,185.61 L1069.21,185.67 L1068.54,185.74 L1067.86,185.80 L1067.19,185.86 L1066.51,185.93 L1065.84,185.99 L1065.16,186.06 L1064.49,186.13 L1063.82,186.20 L1063.14,186.27 L1062.47,186.34 L1061.80,186.41 L1061.12,186.48 L1060.45,186.55 L1059.78,186.62 L1059.10,186.70 L1058.43,186.77 L1057.76,186.85 L1057.09,186.93 L1056.42,187.00 L1055.74,187.08 L1055.07,187.16 L1054.40,187.24 L1053.73,187.32 L1053.06,187.41 L1052.39,187.49 L1051.72,187.57 L1051.05,187.66 L1050.38,187.74 L1049.71,187.83 L1049.04,187.92 L1048.37,188.01 L1047.70,188.10 L1047.03,188.19 L1046.36,188.28 L1045.70,188.37 L1045.03,188.47 L1044.36,188.56 L1043.69,188.66 L1043.02,188.75 L1042.36,188.85 L1041.69,188.95 L1041.02,189.05 L1040.36,189.15 L1039.69,189.25 L1039.02,189.35 L1038.36,189.46 L1037.69,189.56 L1037.03,189.67 L1036.36,189.78 L1035.70,189.88 L1035.03,189.99 L1034.37,190.11 L1033.71,190.22 L1033.04,190.33 L1032.38,190.45 L1031.72,190.56 L1031.05,190.68 L1030.39,190.80 L1029.73,190.92 L1029.07,191.04 L1028.40,191.16 L1027.74,191.29 L1027.08,191.42 L1026.42,191.54 L1025.76,191.67 L1025.10,191.80 L1024.44,191.94 L1023.78,192.07 L1023.12,192.21 L1022.46,192.35 L1021.80,192.49 L1021.14,192.63 L1020.49,192.77 L1019.83,192.92 L1019.17,193.06 L1018.51,193.21 L1017.85,193.36 L1017.20,193.52 L1016.54,193.67 L1015.89,193.83 L1015.23,193.99 L1014.57,194.15 L1013.92,194.31 L1013.26,194.48 L1012.61,194.65 L1011.95,194.82 L1011.30,194.99 L1010.65,195.17 L1009.99,195.34 L1009.34,195.52 L1008.69,195.70 L1008.04,195.89 L1007.38,196.07 L1006.73,196.26 L1006.08,196.45 L1005.43,196.65 L1004.78,196.84 L1004.13,197.04 L1003.48,197.24 L1002.83,197.45 L1002.18,197.65 L1001.53,197.86 L1000.88,198.07 L1000.23,198.29 L999.59,198.51 L998.94,198.73 L998.29,198.95 L997.64,199.18 L997.00,199.40 L996.35,199.64 L995.71,199.87 L995.06,200.11 L994.42,200.35 L993.77,200.59 L993.13,200.84 L992.48,201.09 L991.84,201.34 L991.20,201.60 L990.55,201.85 L989.91,202.12 L989.27,202.38 L988.63,202.65 L987.99,202.92 L987.34,203.20 L986.70,203.48 L986.06,203.76 L985.42,204.04 L984.78,204.33 L984.15,204.62 L983.51,204.92 L982.87,205.22 L982.23,205.52 L981.59,205.82 L980.96,206.13 L980.32,206.45 L979.68,206.76 L979.05,207.08 L978.41,207.41 L977.78,207.74 L977.16,208.07 L976.54,208.41 L975.92,208.76 L975.32,209.12 L974.72,209.48 L974.13,209.85 L973.56,210.23 L973.00,210.62 L972.46,211.02 L971.93,211.43 L971.42,211.85 L970.93,212.29 L970.46,212.73 L970.01,213.19 L969.58,213.67 L969.18,214.16 L968.80,214.66 L968.45,215.18 L968.13,215.71 L967.84,216.27 L967.58,216.84 L967.35,217.42 L967.15,218.03 L967.00,218.65 L966.88,219.27 L966.80,219.91 L966.77,220.55 L966.79,221.19 L966.85,221.83 L966.97,222.47 L967.13,223.10 L967.33,223.72 L967.58,224.33 L967.87,224.93 L968.19,225.52 L968.55,226.09 L968.94,226.64 L969.36,227.17 L969.80,227.69 L970.28,228.17 L970.77,228.64 L971.29,229.07 L971.83,229.48 L972.38,229.85 L972.95,230.19 L973.54,230.50 L974.14,230.78 L974.75,231.04 L975.37,231.27 L976.00,231.47 L976.65,231.64 L977.30,231.80 L977.97,231.93 L978.64,232.05 L979.33,232.14 L980.02,232.21 L980.71,232.27 L981.41,232.32 L982.12,232.35 L982.83,232.37 L983.55,232.37 L984.27,232.37 L984.99,232.35 L985.71,232.33 L986.43,232.31 L987.16,232.27 L987.88,232.24 L988.60,232.20 L989.32,232.16 L990.04,232.12 L990.75,232.08 L991.46,232.05 L992.17,232.02 L992.87,231.99 L993.56,231.97 L994.25,231.96 L994.93,231.95 L995.60,231.96 L996.26,231.98 L996.91,232.01 L997.55,232.05 L998.18,232.11 L998.80,232.19 L999.41,232.29 L1000.00,232.40 L1188,234.40" stroke-linecap="round" stroke-width="4"/>
<path d="M1196.30,322.20 L1195.51,322.24 L1194.71,322.27 L1193.92,322.30 L1193.13,322.34 L1192.34,322.37 L1191.54,322.40 L1190.75,322.43 L1189.95,322.47 L1189.16,322.50 L1188.37,322.52 L1187.57,322.55 L1186.78,322.58 L1185.99,322.61 L1185.19,322.64 L1184.40,322.66 L1183.60,322.69 L1182.81,322.71 L1182.01,322.74 L1181.22,322.76 L1180.42,322.78 L1179.63,322.81 L1178.84,322.83 L1178.04,322.85 L1177.25,322.87 L1176.45,322.89 L1175.65,322.91 L1174.86,322.93 L1174.06,322.95 L1173.27,322.97 L1172.47,322.99 L1171.68,323.01 L1170.88,323.02 L1170.09,323.04 L1169.29,323.06 L1168.50,323.08 L1167.70,323.09 L1166.90,323.11 L1166.11,323.12 L1165.31,323.14 L1164.52,323.15 L1163.72,323.17 L1162.92,323.18 L1162.13,323.20 L1161.33,323.21 L1160.53,323.23 L1159.74,323.24 L1158.94,323.25 L1158.15,323.27 L1157.35,323.28 L1156.55,323.29 L1155.76,323.31 L1154.96,323.32 L1154.16,323.33 L1153.37,323.35 L1152.57,323.36 L1151.77,323.37 L1150.98,323.38 L1150.18,323.40 L1149.38,323.41 L1148.59,323.42 L1147.79,323.43 L1146.99,323.45 L1146.20,323.46 L1145.40,323.47 L1144.60,323.48 L1143.81,323.50 L1143.01,323.51 L1142.21,323.52 L1141.42,323.54 L1140.62,323.55 L1139.82,323.56 L1139.03,323.58 L1138.23,323.59 L1137.43,323.60 L1136.64,323.62 L1135.84,323.63 L1135.04,323.65 L1134.25,323.66 L1133.45,323.68 L1132.65,323.69 L1131.86,323.71 L1131.06,323.72 L1130.26,323.74 L1129.47,323.76 L1128.67,323.77 L1127.87,323.79 L1127.08,323.81 L1126.28,323.83 L1125.48,323.85 L1124.69,323.87 L1123.89,323.88 L1123.10,323.90 L1122.30,323.92 L1121.50,323.95 L1120.71,323.97 L1119.91,323.99 L1119.12,324.01 L1118.32,324.03 L1117.52,324.06 L1116.73,324.08 L1115.93,324.10 L1115.14,324.13 L1114.34,324.15 L1113.54,324.18 L1112.75,324.21 L1111.95,324.23 L1111.16,324.26 L1110.36,324.29 L1109.57,324.32 L1108.77,324.35 L1107.98,324.38 L1107.18,324.41 L1106.39,324.44 L1105.59,324.48 L1104.80,324.51 L1104.00,324.54 L1103.21,324.58 L1102.41,324.62 L1101.62,324.65 L1100.83,324.69 L1100.03,324.73 L1099.24,324.77 L1098.44,324.81 L1097.65,324.85 L1096.86,324.89 L1096.06,324.93 L1095.27,324.98 L1094.47,325.02 L1093.68,325.07 L1092.89,325.11 L1092.09,325.16 L1091.30,325.21 L1090.51,325.26 L1089.72,325.31 L1088.92,325.36 L1088.13,325.41 L1087.34,325.47 L1086.55,325.52 L1085.75,325.58 L1084.96,325.63 L1084.17,325.69 L1083.38,325.75 L1082.59,325.81 L1081.79,325.87 L1081.00,325.93 L1080.21,326.00 L1079.42,326.06 L1078.63,326.13 L1077.84,326.19 L1077.05,326.26 L1076.26,326.33 L1075.47,326.40 L1074.68,326.47 L1073.89,326.55 L1073.10,326.62 L1072.31,326.70 L1071.52,326.78 L1070.73,326.86 L1069.94,326.94 L1069.15,327.02 L1068.36,327.10 L1067.57,327.18 L1066.78,327.27 L1065.99,327.36 L1065.21,327.44 L1064.42,327.53 L1063.63,327.63 L1062.84,327.72 L1062.05,327.81 L1061.27,327.91 L1060.48,328.01 L1059.69,328.10 L1058.91,328.20 L1058.12,328.31 L1057.33,328.41 L1056.55,328.51 L1055.76,328.62 L1054.97,328.73 L1054.19,328.84 L1053.40,328.95 L1052.62,329.06 L1051.83,329.18 L1051.05,329.30 L1050.26,329.41 L1049.48,329.53 L1048.69,329.65 L1047.91,329.78 L1047.13,329.90 L1046.34,330.03 L1045.56,330.16 L1044.78,330.29 L1043.99,330.42 L1043.21,330.55 L1042.43,330.69 L1041.65,330.83 L1040.86,330.97 L1040.08,331.11 L1039.30,331.25 L1038.52,331.40 L1037.74,331.54 L1036.96,331.69 L1036.18,331.84 L1035.39,332.00 L1034.61,332.15 L1033.83,332.31 L1033.05,332.47 L1032.28,332.63 L1031.50,332.79 L1030.72,332.96 L1029.94,333.12 L1029.16,333.29 L1028.38,333.46 L1027.60,333.64 L1026.83,333.81 L1026.05,333.99 L1025.27,334.17 L1024.49,334.35 L1023.72,334.53 L1022.94,334.72 L1022.17,334.91 L1021.39,335.10 L1020.61,335.29 L1019.84,335.48 L1019.06,335.68 L1018.29,335.88 L1017.52,336.08 L1016.74,336.29 L1015.97,336.49 L1015.19,336.70 L1014.42,336.91 L1013.65,337.12 L1012.87,337.34 L1012.10,337.56 L1011.33,337.78 L1010.56,338.00 L1009.79,338.22 L1009.02,338.45 L1008.24,338.68 L1007.47,338.91 L1006.70,339.15 L1005.93,339.38 L1005.16,339.62 L1004.39,339.87 L1003.63,340.11 L1002.86,340.36 L1002.09,340.61 L1001.32,340.86 L1000.56,341.12 L999.79,341.38 L999.03,341.65 L998.27,341.92 L997.52,342.20 L996.77,342.49 L996.02,342.78 L995.28,343.08 L994.54,343.39 L993.81,343.71 L993.08,344.04 L992.36,344.38 L991.65,344.73 L990.94,345.09 L990.24,345.47 L989.55,345.85 L988.87,346.25 L988.20,346.67 L987.54,347.10 L986.88,347.54 L986.24,348.00 L985.61,348.47 L985.00,348.96 L984.40,349.46 L983.81,349.97 L983.25,350.51 L982.70,351.05 L982.18,351.61 L981.68,352.19 L981.20,352.78 L980.75,353.38 L980.32,354.00 L979.92,354.64 L979.55,355.29 L979.21,355.95 L978.90,356.63 L978.63,357.32 L978.39,358.02 L978.18,358.74 L978.02,359.48 L977.89,360.22 L977.80,360.98 L977.76,361.75 L977.76,362.54 L977.80,363.33 L977.90,364.14 L978.03,364.96 L978.22,365.79 L978.46,366.63 L978.75,367.47 L979.10,368.33 L979.50,369.20 L1000,369.1 L1050,369.8 L1100,370.8 L1150,372.2 L1196.3,373.8" stroke-linecap="round" stroke-linejoin="miter" stroke-width="4"/>
</g>
<g fill="none" stroke="#000" stroke-width="3.7">
<path d="M92,36.5 V89 M51,89 H139"/>
<path d="M840,20.6 V89 M799,89 H886.6"/>
<path d="M53.75,267.5 V436.8 M8.2,436.8 H96.8"/>
<path d="M292.75,267.8 V434 M247.2,434 H335.2"/>
<path d="M562,282.5 V435.9 M518.8,435.9 H607"/>
<path d="M823.75,283 V435.9 M779.5,435.9 H867.8"/>
</g>
<g>
<text x="1.00" y="127.60" font-size="19.3" textLength="230.00" lengthAdjust="spacingAndGlyphs">LOW TAIL ROCKER</text>
<text x="690.40" y="128.70" font-size="19.3" textLength="141.00" lengthAdjust="spacingAndGlyphs">MID ENTRY</text>
<text x="697.60" y="152.30" font-size="19.3" textLength="108.80" lengthAdjust="spacingAndGlyphs">ROCKER</text>
<text x="1015.60" y="141.70" font-size="19.3" textLength="183.40" lengthAdjust="spacingAndGlyphs">TAPERED RAIL</text>
<text x="1053.00" y="165.50" font-size="19.3" textLength="146.00" lengthAdjust="spacingAndGlyphs">SOFT EDGE</text>
<text x="1026.00" y="271.60" font-size="19.3" textLength="173.00" lengthAdjust="spacingAndGlyphs">MID TAPERED</text>
<text x="990.00" y="295.50" font-size="19.3" textLength="209.00" lengthAdjust="spacingAndGlyphs">RAIL SOFT EDGE</text>
<text x="985.40" y="419.20" font-size="19.3" textLength="213.60" lengthAdjust="spacingAndGlyphs">BOXY RAIL HARD</text>
<text x="1017.20" y="443.00" font-size="19.3" textLength="181.80" lengthAdjust="spacingAndGlyphs">TUCKED EDGE</text>
<text x="4.80" y="463.00" font-size="19.3" textLength="76.60" lengthAdjust="spacingAndGlyphs">V OUT</text>
<text x="3.80" y="486.80" font-size="19.3" textLength="111.80" lengthAdjust="spacingAndGlyphs">THE TAIL</text>
<text x="235.80" y="467.20" font-size="19.3" textLength="108.80" lengthAdjust="spacingAndGlyphs">DOUBLE</text>
<text x="236.40" y="490.70" font-size="19.3" textLength="124.60" lengthAdjust="spacingAndGlyphs">CONCAVE</text>
<text x="497.60" y="466.90" font-size="19.3" textLength="95.40" lengthAdjust="spacingAndGlyphs">SINGLE</text>
<text x="497.60" y="490.50" font-size="19.3" textLength="126.20" lengthAdjust="spacingAndGlyphs">CONCAVE</text>
<text x="762.00" y="466.90" font-size="19.3" textLength="126.00" lengthAdjust="spacingAndGlyphs">ROLLED V</text>
<text x="1045.80" y="81.80" font-size="14.8" textLength="59.60" lengthAdjust="spacingAndGlyphs">NOSE</text>
<text x="1034.60" y="218.60" font-size="14.8" textLength="85.40" lengthAdjust="spacingAndGlyphs">CENTER</text>
<text x="1066.00" y="359.00" font-size="14.8" textLength="42.60" lengthAdjust="spacingAndGlyphs">TAIL</text>
</g>
</svg>
</body></html>
